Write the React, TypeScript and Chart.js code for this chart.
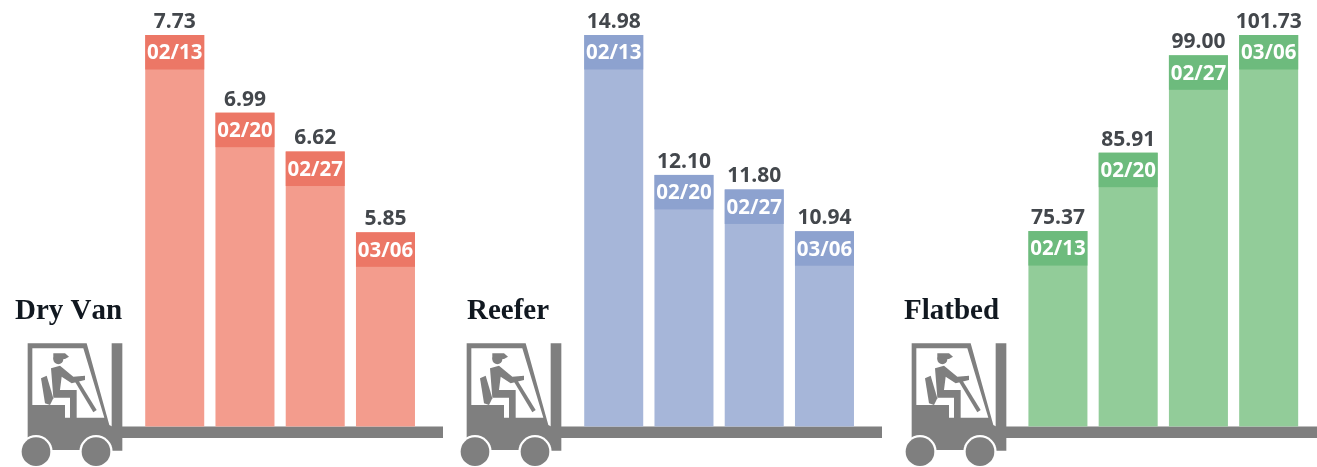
import React, { useEffect, useRef } from "react";
import { Chart, registerables } from "chart.js";

Chart.register(...registerables);

const dates = ["02/13", "02/20", "02/27", "03/06"];
const dryVanValues = [7.73, 6.99, 6.62, 5.85];
const reeferValues = [14.98, 12.1, 11.8, 10.94];
const flatbedDates = ["02/13", "02/20", "02/27", "03/06"];
const flatbedValues = [75.37, 85.91, 99.0, 101.73];
const panelTitles = ["Dry Van", "Reefer", "Flatbed"];
const axisMins = [4, 6.92, 49.1];

const GREY = "#7f7f7f";
const WIDTH = 1317;
const HEIGHT = 467;

type Panel = {
  title: string;
  titleX: number;
  labels: string[];
  values: number[];
  min: number;
  bar: string;
  band: string;
  left: number;
  width: number;
  plotLeft: number;
  plotRight: number;
  liftX: number;
  groundEnd: number;
};

const panels: Panel[] = [
  { title: panelTitles[0], titleX: 15, labels: dates, values: dryVanValues, min: axisMins[0], bar: "#f39c8d", band: "#ec7766", left: 0, width: 450, plotLeft: 139.6, plotRight: 420.6, liftX: 0, groundEnd: 443 },
  { title: panelTitles[1], titleX: 467, labels: dates, values: reeferValues, min: axisMins[1], bar: "#a6b6d9", band: "#8da2cf", left: 450, width: 440, plotLeft: 578.6, plotRight: 859.6, liftX: 439, groundEnd: 882 },
  { title: panelTitles[2], titleX: 904, labels: flatbedDates, values: flatbedValues, min: axisMins[2], bar: "#92cc99", band: "#6dbb7d", left: 895, width: 422, plotLeft: 1022.8, plotRight: 1303.8, liftX: 884, groundEnd: 1317 },
];

// Icon outline, in crop units (3x the pixel size, origin at y = 280).
function poly(ctx: CanvasRenderingContext2D, pts: number[][], color: string) {
  ctx.fillStyle = color;
  ctx.beginPath();
  pts.forEach(([x, y], i) => {
    const px = x / 3;
    const py = y / 3 + 280;
    if (i === 0) ctx.moveTo(px, py);
    else ctx.lineTo(px, py);
  });
  ctx.closePath();
  ctx.fill();
}

function circle(ctx: CanvasRenderingContext2D, x: number, y: number, r: number, color: string) {
  ctx.fillStyle = color;
  ctx.beginPath();
  ctx.arc(x / 3, y / 3 + 280, r / 3, 0, Math.PI * 2);
  ctx.fill();
}

function drawForklift(ctx: CanvasRenderingContext2D, dx: number) {
  ctx.save();
  ctx.translate(dx, 0);
  // frame and body
  poly(ctx, [[83, 190], [260, 190], [328, 435], [338, 440], [338, 510], [83, 510]], GREY);
  // cab window
  poly(ctx, [[97, 205], [250, 205], [313, 413], [195, 413], [195, 375], [97, 375]], "#ffffff");
  // mast
  poly(ctx, [[335, 190], [367, 190], [367, 512], [335, 512]], GREY);
  // driver
  circle(ctx, 175, 238, 15, GREY);
  poly(ctx, [[160, 220], [195, 220], [207, 230], [195, 237], [160, 237]], GREY);
  poly(ctx, [[153, 265], [180, 257], [220, 290], [255, 287], [255, 300], [215, 310], [185, 290], [180, 330], [230, 330], [230, 415], [210, 415], [210, 353], [160, 353]], GREY);
  poly(ctx, [[123, 295], [140, 287], [160, 355], [150, 375], [135, 370]], GREY);
  // steering column
  poly(ctx, [[225, 305], [235, 301], [290, 390], [280, 397]], GREY);
  // wheels
  circle(ctx, 108, 515, 50, "#ffffff");
  circle(ctx, 288, 515, 50, "#ffffff");
  circle(ctx, 108, 515, 43, GREY);
  circle(ctx, 288, 515, 43, GREY);
  ctx.restore();
}

function makeOverlay(panel: Panel) {
  return {
    id: "overlay",
    beforeDatasetsDraw(chart: any) {
      const ctx: CanvasRenderingContext2D = chart.ctx;
      ctx.save();
      ctx.translate(-panel.left, 0);
      drawForklift(ctx, panel.liftX);
      ctx.fillStyle = GREY;
      ctx.fillRect(panel.liftX + 122, 426.5, panel.groundEnd - panel.liftX - 122, 11.5);
      ctx.fillStyle = "#111820";
      ctx.font = "bold 29px 'Liberation Serif'";
      (ctx as any).fontKerning = "none";
      ctx.textAlign = "left";
      ctx.textBaseline = "alphabetic";
      ctx.fillText(panel.title, panel.titleX, 319);
      ctx.restore();
    },
    afterDatasetsDraw(chart: any) {
      const ctx: CanvasRenderingContext2D = chart.ctx;
      const meta = chart.getDatasetMeta(0);
      ctx.save();
      ctx.textAlign = "center";
      ctx.textBaseline = "middle";
      meta.data.forEach((el: any, i: number) => {
        const w = el.width;
        ctx.fillStyle = panel.band;
        ctx.fillRect(el.x - w / 2, el.y, w, 34.5);
        ctx.fillStyle = "#ffffff";
        ctx.font = "700 20.5px 'Open Sans'";
        ctx.fillText(panel.labels[i], el.x, el.y + 18.5);
        ctx.fillStyle = "#43474c";
        ctx.font = "700 21px 'Open Sans'";
        ctx.fillText(panel.values[i].toFixed(2), el.x, el.y - 13);
      });
      ctx.restore();
    },
  };
}

function PanelChart({ panel }: { panel: Panel }) {
  const ref = useRef<HTMLCanvasElement | null>(null);
  useEffect(() => {
    if (!ref.current) return;
    const chart = new Chart(ref.current, {
      type: "bar",
      data: {
        labels: panel.labels,
        datasets: [
          {
            data: panel.values,
            backgroundColor: panel.bar,
            borderWidth: 0,
            barPercentage: 0.84,
            categoryPercentage: 1,
          },
        ],
      },
      options: {
        responsive: false,
        animation: false,
        layout: {
          padding: {
            left: panel.plotLeft - panel.left,
            right: panel.left + panel.width - panel.plotRight,
            top: 35,
            bottom: HEIGHT - 426.5,
          },
        },
        plugins: { legend: { display: false }, tooltip: { enabled: false } },
        scales: {
          x: { display: false },
          y: { display: false, min: panel.min, max: Math.max(...panel.values) },
        },
      },
      plugins: [makeOverlay(panel)],
    } as any);
    return () => chart.destroy();
  }, [panel]);
  return (
    <canvas
      ref={ref}
      width={panel.width}
      height={HEIGHT}
      style={{
        position: "absolute",
        left: panel.left,
        top: 0,
        width: panel.width,
        height: HEIGHT,
        filter: "blur(0.6px)",
      }}
    />
  );
}

export default function App() {
  return (
    <div style={{ position: "fixed", left: 0, top: 0, width: WIDTH, height: HEIGHT, background: "#fff", overflow: "hidden" }}>
      {panels.map((p) => (
        <PanelChart key={p.title} panel={p} />
      ))}
    </div>
  );
}
